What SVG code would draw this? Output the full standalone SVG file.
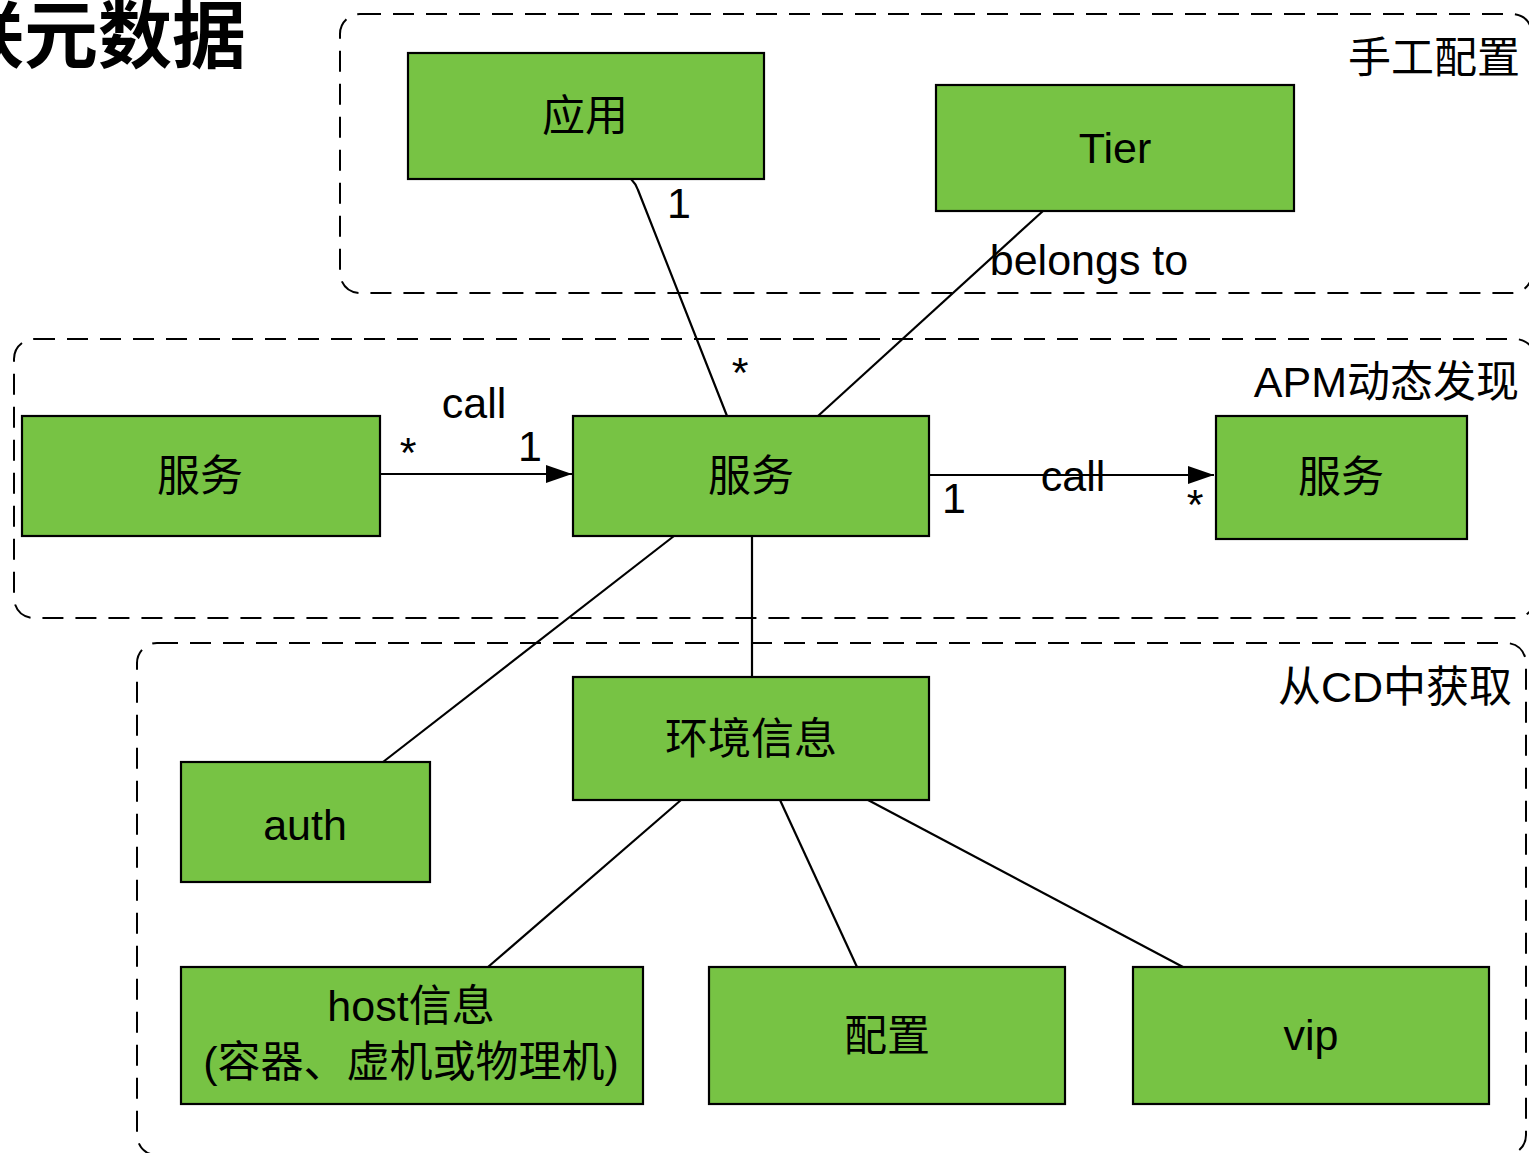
<svg xmlns="http://www.w3.org/2000/svg" width="1529" height="1153" viewBox="0 0 1529 1153">
<defs>
<style>
.grp{fill:none;stroke:#000;stroke-width:2;stroke-dasharray:21 12}
.node rect{fill:#77C344;stroke:#000;stroke-width:2.2}
text{font-family:"Liberation Sans","Noto Sans CJK SC",sans-serif;font-size:43px;fill:#000}
.c{text-anchor:middle}
.r{text-anchor:end}
.conn path,.conn line{fill:none;stroke:#000;stroke-width:2.2}
</style>
<marker id="arr" markerWidth="28" markerHeight="20" refX="26" refY="9" orient="auto" markerUnits="userSpaceOnUse">
<path d="M0,0 L26,9 L0,18 Z" fill="#000"/>
</marker>
</defs>
<rect width="1529" height="1153" fill="#fff"/>
<text x="246" y="62" class="r" style="font-size:74px;font-weight:bold">关联元数据</text>

<g id="groups">
<rect class="grp" x="340" y="14" width="1192" height="279" rx="20"/>
<rect class="grp" x="14" y="339" width="1521" height="279" rx="20"/>
<rect class="grp" x="137" y="643" width="1389" height="512" rx="20"/>
<text x="1520" y="73" class="r">手工配置</text>
<text x="1519" y="397" class="r">APM动态发现</text>
<text x="1512" y="702" class="r">从CD中获取</text>
</g>

<g id="connectors" class="conn">
<path d="M631,179 Q636,184 638,190 L727,416"/>
<line x1="1043" y1="211" x2="818" y2="416"/>
<line x1="378" y1="474" x2="572" y2="474" marker-end="url(#arr)"/>
<line x1="929" y1="475" x2="1214" y2="475" marker-end="url(#arr)"/>
<line x1="674" y1="536" x2="383" y2="762"/>
<line x1="752" y1="536" x2="752" y2="677"/>
<line x1="681" y1="800" x2="488" y2="967"/>
<line x1="780" y1="800" x2="857" y2="967"/>
<line x1="868" y1="800" x2="1183" y2="967"/>
<text x="679" y="218" class="c">1</text>
<text x="740" y="387" class="c">*</text>
<text x="1089" y="275" class="c">belongs to</text>
<text x="474" y="418" class="c">call</text>
<text x="408" y="467" class="c">*</text>
<text x="530" y="461" class="c">1</text>
<text x="1073" y="491" class="c">call</text>
<text x="954" y="513" class="c">1</text>
<text x="1195" y="519" class="c">*</text>
</g>

<g id="n-app" class="node"><rect x="408" y="53" width="356" height="126"/><text x="585" y="131" class="c">应用</text></g>
<g id="n-tier" class="node"><rect x="936" y="85" width="358" height="126"/><text x="1115" y="163" class="c">Tier</text></g>
<g id="n-svc-left" class="node"><rect x="22" y="416" width="358" height="120"/><text x="200" y="491" class="c">服务</text></g>
<g id="n-svc" class="node"><rect x="573" y="416" width="356" height="120"/><text x="751" y="491" class="c">服务</text></g>
<g id="n-svc-right" class="node"><rect x="1216" y="416" width="251" height="123"/><text x="1341" y="492" class="c">服务</text></g>
<g id="n-env" class="node"><rect x="573" y="677" width="356" height="123"/><text x="751" y="754" class="c">环境信息</text></g>
<g id="n-auth" class="node"><rect x="181" y="762" width="249" height="120"/><text x="305" y="840" class="c">auth</text></g>
<g id="n-host" class="node"><rect x="181" y="967" width="462" height="137"/><text x="411" y="1021" class="c">host信息</text><text x="411" y="1077" class="c">(容器、虚机或物理机)</text></g>
<g id="n-config" class="node"><rect x="709" y="967" width="356" height="137"/><text x="887" y="1051" class="c">配置</text></g>
<g id="n-vip" class="node"><rect x="1133" y="967" width="356" height="137"/><text x="1311" y="1050" class="c">vip</text></g>
</svg>
